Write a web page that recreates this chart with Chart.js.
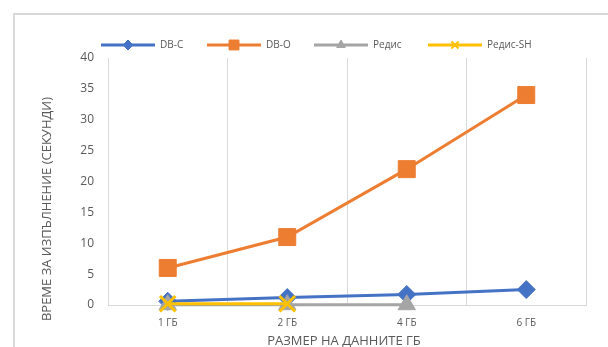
<!DOCTYPE html>
<html>
<head>
<meta charset="utf-8">
<script src="https://cdn.jsdelivr.net/npm/chart.js@4/dist/chart.umd.min.js"></script>
<style>
  html, body { margin: 0; padding: 0; background: #fff; }
  #wrap { width: 608px; height: 347px; position: relative; }
</style>
</head>
<body>
<div id="wrap"><canvas id="chart"></canvas></div>
<script>
// размери на данните и времена за изпълнение (секунди)
const razmeri = ['1 ГБ', '2 ГБ', '4 ГБ', '6 ГБ'];
const dbC = [0.6, 1.2, 1.7, 2.5];
const dbO = [6, 11, 22, 34];
const redis = [0.05, 0.05, 0.05, null];
const redisSH = [0.2, 0.2, null, null];

const sivTekst = '#595959';
const liniiCvqt = '#d9d9d9';
const shrift = '"Open Sans", "Liberation Sans", sans-serif';

// === Рамка, легенда и заглавия на осите ===
const dopalnitelno = {
  id: 'dopalnitelno',
  beforeDraw(chart) {
    const ctx = chart.ctx;
    ctx.save();
    ctx.strokeStyle = liniiCvqt;
    ctx.lineWidth = 2;
    ctx.beginPath();
    ctx.moveTo(14, 400);
    ctx.lineTo(14, 14);
    ctx.lineTo(700, 14);
    ctx.stroke();
    ctx.restore();
  },
  afterDraw(chart) {
    const ctx = chart.ctx;
    ctx.save();
    // легенда
    const pozicii = [101, 207, 314, 428];
    chart.data.datasets.forEach((ds, i) => {
      const x = pozicii[i], y = 45;
      ctx.strokeStyle = ds.borderColor;
      ctx.fillStyle = ds.borderColor;
      ctx.lineWidth = 3;
      ctx.beginPath();
      ctx.moveTo(x, y);
      ctx.lineTo(x + 54, y);
      ctx.stroke();
      ctx.lineWidth = ds.pointStyle === 'crossRot' ? 2 : 1;
      Chart.helpers.drawPoint(ctx, {
        pointStyle: ds.pointStyle,
        rotation: 0,
        radius: ds.legendRadius,
        borderWidth: ctx.lineWidth
      }, x + 27, y);
      ctx.fillStyle = sivTekst;
      ctx.font = '10px ' + shrift;
      ctx.textBaseline = 'middle';
      ctx.textAlign = 'left';
      ctx.fillText(ds.label, x + 59, y);
    });
    // заглавие на оста Y
    ctx.fillStyle = sivTekst;
    ctx.font = '13px ' + shrift;
    ctx.textAlign = 'center';
    ctx.textBaseline = 'middle';
    ctx.translate(47, 209);
    ctx.rotate(-Math.PI / 2);
    ctx.fillText('ВРЕМЕ ЗА ИЗПЪЛНЕНИЕ (СЕКУНДИ)', 0, 0);
    ctx.restore();
    // заглавие на оста X
    ctx.save();
    ctx.fillStyle = sivTekst;
    ctx.font = '13px ' + shrift;
    ctx.textAlign = 'center';
    ctx.textBaseline = 'middle';
    ctx.fillText('РАЗМЕР НА ДАННИТЕ ГБ', 344, 341);
    ctx.restore();
  }
};

function serija(label, data, cvqt, stil, radius, red) {
  return {
    label, data,
    borderColor: cvqt,
    backgroundColor: cvqt,
    pointBackgroundColor: cvqt,
    pointBorderColor: cvqt,
    pointStyle: stil,
    pointRadius: radius,
    pointHoverRadius: radius,
    pointBorderWidth: stil === 'crossRot' ? 3 : 1,
    legendRadius: stil === 'rect' ? 7 : 5,
    borderWidth: 3,
    tension: 0,
    spanGaps: false,
    clip: false,
    order: red
  };
}

new Chart(document.getElementById('chart'), {
  type: 'line',
  data: {
    labels: razmeri,
    datasets: [
      serija('DB-C', dbC, '#4472C4', 'rectRot', 9, 4),
      serija('DB-O', dbO, '#ED7D31', 'rect', 12, 3),
      serija('Редис', redis, '#A5A5A5', 'triangle', 10, 2),
      serija('Редис-SH', redisSH, '#FFC000', 'crossRot', 11, 1)
    ]
  },
  options: {
    responsive: true,
    maintainAspectRatio: false,
    animation: false,
    layout: { padding: { top: 58, right: 22, left: 0, bottom: 0 } },
    plugins: {
      legend: { display: false },
      tooltip: { enabled: false }
    },
    scales: {
      x: {
        offset: true,
        grid: { offset: true, color: liniiCvqt, drawTicks: false, lineWidth: 1 },
        border: { color: liniiCvqt, width: 1 },
        ticks: {
          color: sivTekst,
          padding: 12,
          font: { family: shrift, size: 10 }
        },
        afterFit(scale) { scale.height = 42; }
      },
      y: {
        min: 0,
        max: 40,
        grid: { display: false, drawTicks: false },
        border: { color: liniiCvqt, width: 1 },
        ticks: {
          stepSize: 5,
          color: sivTekst,
          padding: 14,
          font: { family: shrift, size: 12 }
        },
        afterFit(scale) { scale.width = 108; }
      }
    }
  },
  plugins: [dopalnitelno]
});
</script>
</body>
</html>
